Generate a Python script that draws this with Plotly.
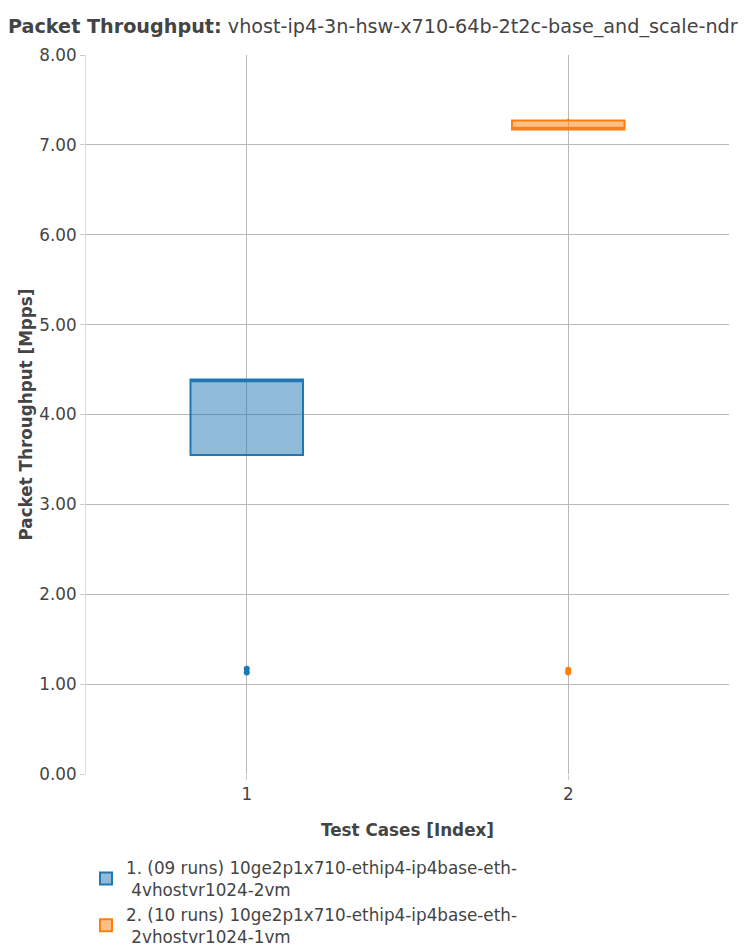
import plotly.graph_objects as go

title_bold = "Packet Throughput:"
title_rest = "vhost-ip4-3n-hsw-x710-64b-2t2c-base_and_scale-ndr"

names = [
    "1. (09 runs) 10ge2p1x710-ethip4-ip4base-eth-<br> 4vhostvr1024-2vm",
    "2. (10 runs) 10ge2p1x710-ethip4-ip4base-eth-<br> 2vhostvr1024-1vm",
]
x_index = [1, 2]
runs_1 = [1.13, 1.17, 3.55, 3.56, 4.37, 4.38, 4.39, 4.39, 4.39]
runs_2 = [1.13, 1.16, 7.17, 7.17, 7.19, 7.19, 7.25, 7.27, 7.28, 7.29]
colors = ["#1f77b4", "#ff7f0e"]
y_ticks = [0, 1, 2, 3, 4, 5, 6, 7, 8]

fig = go.Figure()
for name, xi, runs, c in zip(names, x_index, [runs_1, runs_2], colors):
    fig.add_trace(go.Box(
        y=runs, x=[xi] * len(runs), name=name,
        boxpoints="outliers", marker=dict(color=c, size=6),
        line=dict(color=c, width=2), width=0.35, whiskerwidth=0,
        quartilemethod="inclusive",
    ))

font = "DejaVu Sans"
fs = 16.8
fig.update_layout(
    width=747, height=945,
    font=dict(family=font, size=fs, color="#444"),
    title=dict(text=f"<b>{title_bold}</b> {title_rest}", x=0.0, xanchor="left",
               y=1 - 18 / 945, yanchor="middle", font=dict(size=19.2, color="#444")),
    plot_bgcolor="white", paper_bgcolor="white",
    margin=dict(l=78, r=26, t=47, b=179, autoexpand=False),
    showlegend=True,
    legend=dict(orientation="v", x=0.0, xanchor="left", y=-0.106, yanchor="top",
                font=dict(size=fs)),
    xaxis=dict(title=dict(text="<b>Test Cases [Index]</b>", font=dict(size=fs), standoff=21),
               range=[0.5, 2.5], tickvals=x_index, ticktext=[str(v) for v in x_index],
               showgrid=True, gridcolor="#b8b8b8", gridwidth=1, zeroline=False,
               showline=False, ticks="outside", ticklen=5, tickcolor="#ccc",
               automargin=False),
    yaxis=dict(title=dict(text="<b>Packet Throughput [Mpps]</b>", font=dict(size=fs), standoff=2),
               range=[0, 8], tickvals=y_ticks, tickformat=".2f",
               showgrid=True, gridcolor="#b8b8b8", gridwidth=1, zeroline=False,
               showline=True, linecolor="#ddd", ticks="outside", ticklen=5, tickcolor="#ccc",
               automargin=False),
)
fig.write_html("out.html")
